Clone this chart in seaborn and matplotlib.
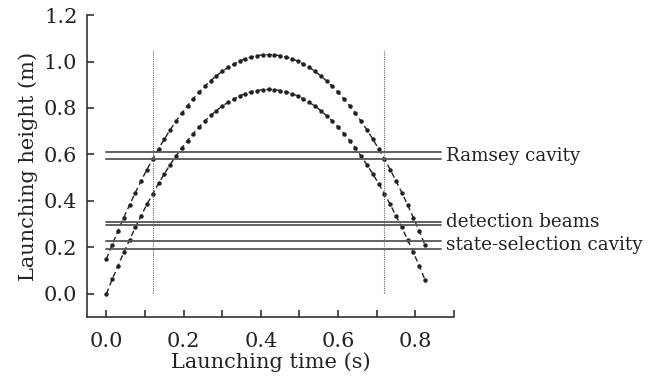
import numpy as np
import pandas as pd
import matplotlib
matplotlib.use('Agg')
import matplotlib.pyplot as plt
import seaborn as sns

# temps de lancement (s), un point toutes les 15 ms
temps = [0.000, 0.015, 0.030, 0.045, 0.060, 0.075, 0.090, 0.105, 0.120, 0.135,
         0.150, 0.165, 0.180, 0.195, 0.210, 0.225, 0.240, 0.255, 0.270, 0.285,
         0.300, 0.315, 0.330, 0.345, 0.360, 0.375, 0.390, 0.405, 0.420, 0.435,
         0.450, 0.465, 0.480, 0.495, 0.510, 0.525, 0.540, 0.555, 0.570, 0.585,
         0.600, 0.615, 0.630, 0.645, 0.660, 0.675, 0.690, 0.705, 0.720, 0.735,
         0.750, 0.765, 0.780, 0.795, 0.810, 0.825]

# hauteur (m) - trajectoire basse
haut_bas = [0.000, 0.062, 0.121, 0.178, 0.233, 0.286, 0.337, 0.385, 0.431, 0.475,
            0.516, 0.556, 0.593, 0.627, 0.660, 0.690, 0.718, 0.744, 0.768, 0.789,
            0.808, 0.825, 0.839, 0.852, 0.862, 0.870, 0.875, 0.879, 0.880, 0.879,
            0.875, 0.870, 0.862, 0.852, 0.839, 0.825, 0.808, 0.789, 0.767, 0.744,
            0.718, 0.690, 0.660, 0.627, 0.592, 0.555, 0.516, 0.474, 0.431, 0.385,
            0.336, 0.286, 0.233, 0.178, 0.121, 0.061]

# hauteur (m) - trajectoire haute
haut_haut = [0.150, 0.212, 0.271, 0.328, 0.383, 0.436, 0.487, 0.535, 0.581, 0.625,
             0.666, 0.706, 0.743, 0.777, 0.810, 0.840, 0.868, 0.894, 0.918, 0.939,
             0.958, 0.975, 0.989, 1.002, 1.012, 1.020, 1.025, 1.029, 1.030, 1.029,
             1.025, 1.020, 1.012, 1.002, 0.989, 0.975, 0.958, 0.939, 0.917, 0.894,
             0.868, 0.840, 0.810, 0.777, 0.742, 0.705, 0.666, 0.624, 0.581, 0.535,
             0.486, 0.436, 0.383, 0.328, 0.271, 0.211]

# paires de lignes horizontales (m) et leurs noms
zones = ['Ramsey cavity', 'detection beams', 'state-selection cavity']
zone_haut = [0.612, 0.311, 0.227]
zone_bas = [0.579, 0.295, 0.191]
zone_texte_y = [0.595, 0.308, 0.212]

# instants marques par les lignes verticales pointillees (s)
instants = [0.12, 0.72]

sns.set_style('ticks')
plt.rcParams['font.family'] = ['DejaVu Serif']
plt.rcParams['mathtext.fontset'] = 'dejavuserif'

fig = plt.figure(figsize=(6.55, 3.77), dpi=100)
ax = fig.add_axes([0.133, 0.159, 0.560, 0.801])

df = pd.DataFrame({
    't': temps * 2,
    'h': haut_haut + haut_bas,
    'traj': ['haut'] * len(temps) + ['bas'] * len(temps),
})
for nom in ['haut', 'bas']:
    sns.lineplot(data=df[df['traj'] == nom], x='t', y='h', ax=ax, color='#222222',
                 linestyle=(0, (4, 2.5)), linewidth=1.0, marker='o', markersize=3.2,
                 markeredgewidth=0, sort=False, estimator=None)

for y1, y2 in zip(zone_haut, zone_bas):
    ax.plot([0.0, 0.867], [y1, y1], color='#555555', lw=1.3, clip_on=False)
    ax.plot([0.0, 0.867], [y2, y2], color='#555555', lw=1.3, clip_on=False)
for nom, ty in zip(zones, zone_texte_y):
    ax.text(0.879, ty, nom, fontsize=13.2, va='center', ha='left', clip_on=False,
            color='#222222')

for xv in instants:
    ax.plot([xv, xv], [0.005, 1.05], color='#666666', lw=0.8, linestyle=(0, (1, 1)))

ax.set_xlim(-0.05, 0.9)
ax.set_ylim(-0.1, 1.2)
ax.set_xticks([0.0, 0.1, 0.2, 0.3, 0.4, 0.5, 0.6, 0.7, 0.8, 0.9])
ax.set_xticklabels(['0.0', '', '0.2', '', '0.4', '', '0.6', '', '0.8', ''])
ax.set_yticks([0.0, 0.2, 0.4, 0.6, 0.8, 1.0, 1.2])
ax.set_yticklabels(['0.0', '0.2', '0.4', '0.6', '0.8', '1.0', '1.2'])
ax.tick_params(direction='in', length=5, width=1.1, labelsize=15, colors='#222222', pad=7)
ax.tick_params(axis='x', pad=11)
for s in ['left', 'bottom']:
    ax.spines[s].set_linewidth(1.2)
    ax.spines[s].set_color('#333333')
sns.despine(ax=ax)
ax.set_xlabel('Launching time (s)', fontsize=15, labelpad=1, color='#222222')
ax.set_ylabel('Launching height (m)', fontsize=15, labelpad=4, color='#222222')

fig.savefig('out.png', dpi=100, facecolor='white')
